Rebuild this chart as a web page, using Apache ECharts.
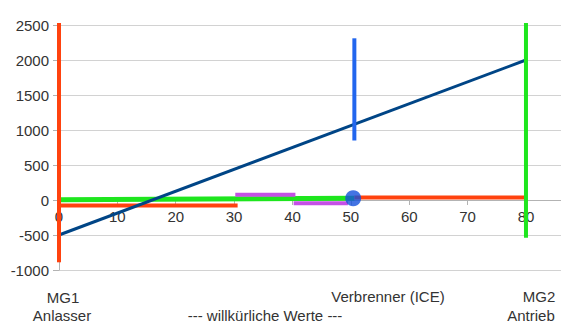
<!DOCTYPE html>
<html>
<head>
<meta charset="utf-8">
<script src="https://cdn.jsdelivr.net/npm/echarts@6/dist/echarts.min.js"></script>
<style>
  html, body { margin: 0; padding: 0; background: #fff; }
  #chart { width: 561px; height: 322px; }
</style>
</head>
<body>
<div id="chart"></div>
<script>
// data
var yTicks = [-1000, 2500, 500];         // min, max, step
var xTicks = [0, 86, 10];
var kennlinie = [[0, -500], [80, 2000]];  // dark blue
var mg1Achse = [[0, -890], [0, 2680]];    // orange vertical
var mg2Achse = [[80, -540], [80, 2680]];  // green vertical
var iceAchse = [[50.6, 850], [50.6, 2310]]; // blue vertical
var mg1Pfeil = [[0, -80], [30.6, -80]];
var mg2Pfeil = [[50.6, 35], [80, 35]];
var gruen = [[0, 5], [50.6, 25]];
var violettOben = [[30.2, 75], [40.5, 75]];
var violettUnten = [[40.2, -45], [49.5, -45]];
var iceKnoten = [[50.4, 25]];
var beschriftung = [
  { text: 'MG1', x: 63, y: 297 },
  { text: 'Anlasser', x: 62, y: 315 },
  { text: '--- willkürliche Werte ---', x: 265, y: 315 },
  { text: 'Verbrenner (ICE)', x: 388, y: 296 },
  { text: 'MG2', x: 539, y: 296 },
  { text: 'Antrieb', x: 531, y: 315 }
];

var FONT = '"Liberation Sans", Arial, sans-serif';
var GRID = { left: 59, right: 0, top: 25, bottom: 52 };
var plotHeight = 322 - GRID.top - GRID.bottom;
// x axis sits on y = 0, labels directly below it
var xOffset = -(0 - yTicks[0]) / (yTicks[1] - yTicks[0]) * plotHeight;

function strich(name, data, color, width, z) {
  return {
    name: name,
    type: 'line',
    data: data,
    symbol: 'none',
    z: z,
    silent: true,
    animation: false,
    lineStyle: { color: color, width: width, cap: 'butt' }
  };
}

var chart = echarts.init(document.getElementById('chart'), null, { renderer: 'svg' });

var options = {
  backgroundColor: '#fff',
  animation: false,
  grid: GRID,
  xAxis: {
    type: 'value',
    min: xTicks[0],
    max: xTicks[1],
    interval: xTicks[2],
    offset: xOffset,
    axisLine: { onZero: false, lineStyle: { color: '#b3b3b3', width: 1 } },
    axisTick: { show: true, length: 5, lineStyle: { color: '#b3b3b3' } },
    axisLabel: {
      showMaxLabel: false,
      color: '#333',
      fontSize: 15,
      fontFamily: FONT,
      margin: 9
    },
    splitLine: { show: false }
  },
  yAxis: {
    type: 'value',
    min: yTicks[0],
    max: yTicks[1],
    interval: yTicks[2],
    axisLine: { show: true, lineStyle: { color: '#b3b3b3', width: 1 } },
    axisTick: { show: true, length: 6, lineStyle: { color: '#b3b3b3' } },
    axisLabel: {
      color: '#333',
      fontSize: 15,
      fontFamily: FONT,
      margin: 10,
      formatter: function (v) { return String(v); }
    },
    splitLine: { show: true, lineStyle: { color: '#d2d2d2', width: 1 } }
  },
  series: [
    strich('MG1 Pfeil', mg1Pfeil, '#ff420e', 4, 2),
    strich('Gruen', gruen, '#1ee61e', 5, 3),
    strich('Violett oben', violettOben, '#c550e6', 4, 3),
    strich('Violett unten', violettUnten, '#c550e6', 4, 3),
    strich('MG2 Pfeil', mg2Pfeil, '#ff420e', 4, 3),
    strich('Kennlinie', kennlinie, '#004586', 3, 4),
    strich('MG1', mg1Achse, '#ff420e', 4, 5),
    strich('MG2', mg2Achse, '#1ee61e', 4, 5),
    strich('ICE', iceAchse, '#2266ee', 4, 5),
    {
      name: 'ICE Knoten',
      type: 'scatter',
      data: iceKnoten,
      symbol: 'circle',
      symbolSize: 16,
      z: 6,
      silent: true,
      itemStyle: { color: '#1451dc' }
    }
  ],
  graphic: beschriftung.map(function (b) {
    return {
      type: 'text',
      x: b.x,
      y: b.y,
      style: {
        text: b.text,
        fill: '#333',
        font: '15px ' + FONT,
        align: 'center',
        verticalAlign: 'middle'
      }
    };
  })
};

chart.setOption(options);
</script>
</body>
</html>
